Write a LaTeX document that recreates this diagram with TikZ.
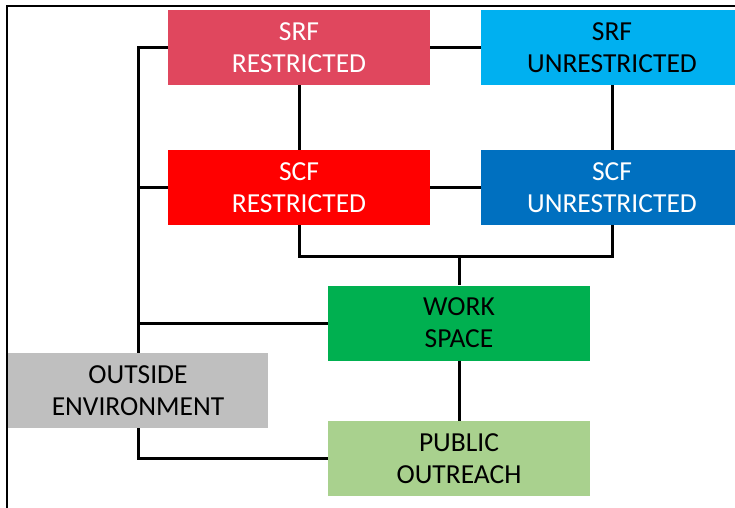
\documentclass[tikz,border=0pt]{standalone}
\usepackage{fontspec}
\setmainfont{Carlito}
\usepackage{tikz}
\usetikzlibrary{positioning,calc}
\definecolor{srfr}{RGB}{224,71,94}
\definecolor{srfu}{RGB}{0,176,240}
\definecolor{scfr}{RGB}{255,0,0}
\definecolor{scfu}{RGB}{0,112,192}
\definecolor{wrk}{RGB}{0,176,80}
\definecolor{outs}{RGB}{191,191,191}
\definecolor{pub}{RGB}{169,209,142}
\begin{document}
\begin{tikzpicture}[x=1pt, y=-1pt,
		box/.style={rectangle, inner sep=0pt, minimum width=262pt, minimum height=75pt, align=center, font=\fontsize{27.5}{32}\selectfont},
		lnk/.style={line width=3pt},
		frm/.style={line width=1.5pt}
		]
		\useasboundingbox (0,0) rectangle (735,507);
		\clip (0,0) rectangle (735,507);
		\draw[frm] (7,6) rectangle (760,530);
		\node[box, fill=srfr, text=white] (srfr) at (299,47.5) {SRF\\RESTRICTED};
		\node[box, fill=srfu] (srfu) at (612,47.5) {SRF\\UNRESTRICTED};
		\node[box, fill=scfr, text=white] (scfr) at (299,187.5) {SCF\\RESTRICTED};
		\node[box, fill=scfu, text=white] (scfu) at (612,187.5) {SCF\\UNRESTRICTED};
		\node[box, fill=wrk] (work) at (459,323) {WORK\\SPACE};
		\node[box, fill=outs, minimum width=260pt] (outside) at (138,390.5) {OUTSIDE\\ENVIRONMENT};
		\node[box, fill=pub] (public) at (459,458.5) {PUBLIC\\OUTREACH};
		\coordinate (j) at (459,256);
		\draw[lnk] (srfr.west) -| (outside.north);
		\draw[lnk] (outside.south) |- (public.west);
		\draw[lnk] (scfr.west) -- (scfr.west -| outside.north);
		\draw[lnk] (work.west) -- (work.west -| outside.north);
		\draw[lnk] (srfr) -- (srfu);
		\draw[lnk] (scfr) -- (scfu);
		\draw[lnk] (srfr) -- (scfr);
		\draw[lnk] (srfu) -- (scfu);
		\draw[lnk] (scfr.south) |- (j) -| (scfu.south);
		\draw[lnk] (j) -- (work.north);
		\draw[lnk] (work) -- (public);
	\end{tikzpicture}
\end{document}
